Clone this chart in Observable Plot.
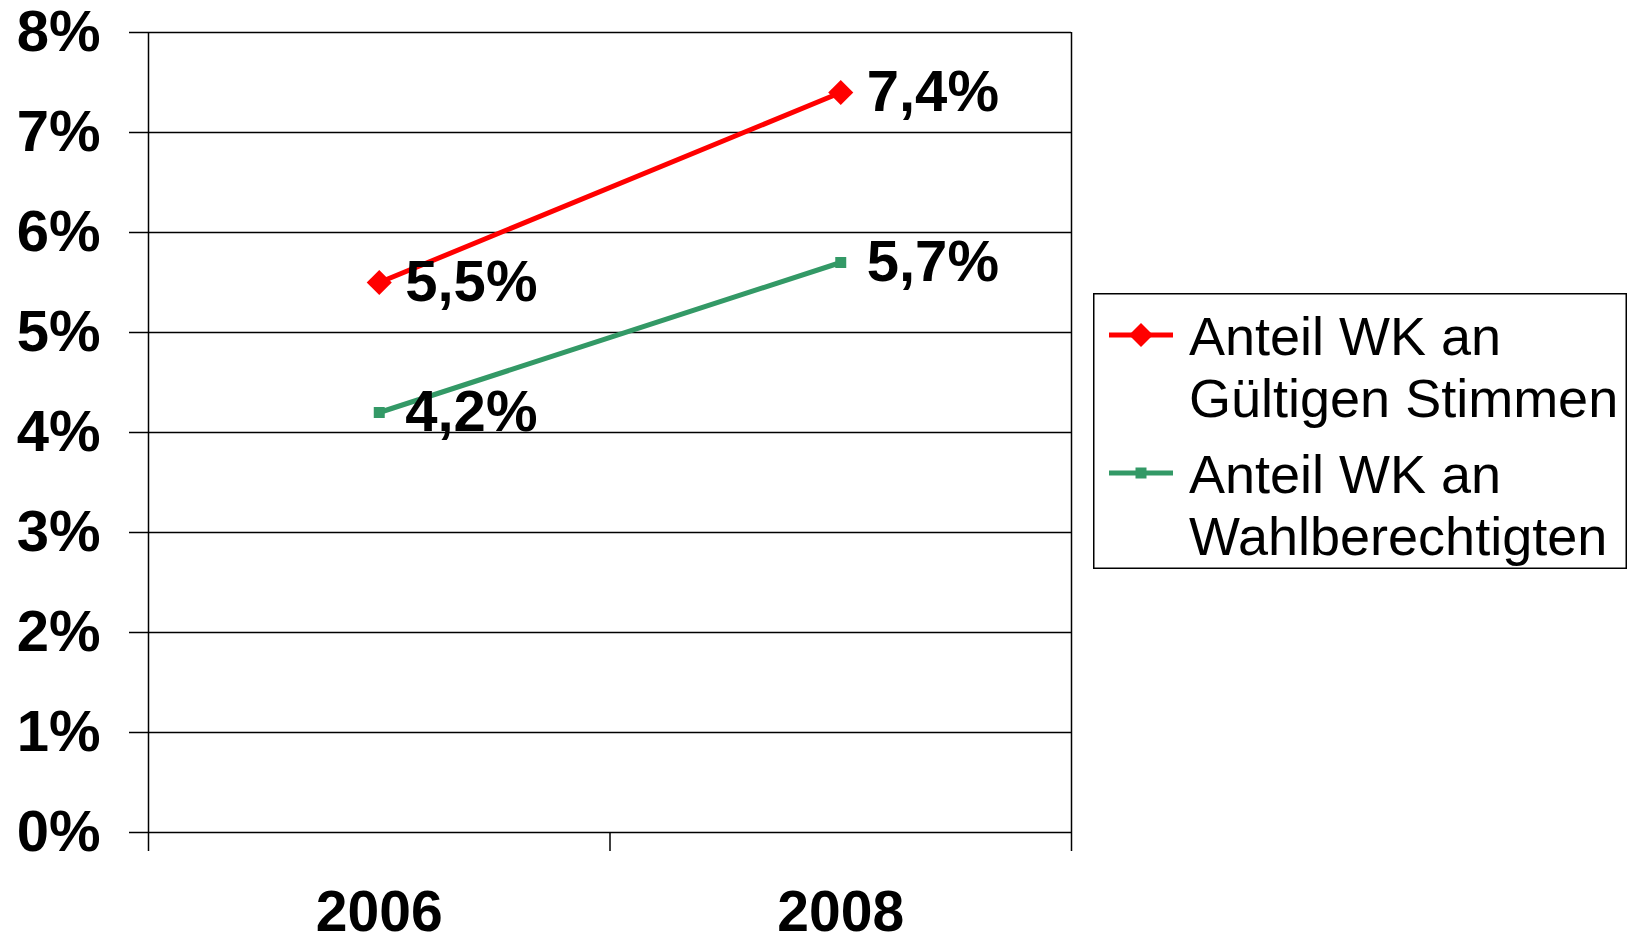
<!DOCTYPE html>
<html>
<head>
<meta charset="utf-8">
<script src="https://cdn.jsdelivr.net/npm/d3@7"></script>
<script src="https://cdn.jsdelivr.net/npm/@observablehq/plot@0.6"></script>
<style>
  html, body { margin: 0; padding: 0; background: white; }
  #wrap { position: relative; width: 1635px; height: 944px; }
  #legend { position: absolute; left: 1093px; top: 293px; }
</style>
</head>
<body>
<div id="wrap"></div>
<script>
// ---- data ----
const years = [2006, 2008];
const bandEdges = [2005, 2007, 2009];
const yTicks = [0, 1, 2, 3, 4, 5, 6, 7, 8];
const seriesNames = ["Anteil WK an Gültigen Stimmen", "Anteil WK an Wahlberechtigten"];
const legendLines = [["Anteil WK an", "Gültigen Stimmen"], ["Anteil WK an", "Wahlberechtigten"]];
const gueltigeStimmen = [5.5, 7.4];
const wahlberechtigte = [4.2, 5.7];
const seriesColors = ["#FF0000", "#339966"];

const rows = [
  ...years.map((year, i) => ({year, value: gueltigeStimmen[i], series: seriesNames[0]})),
  ...years.map((year, i) => ({year, value: wahlberechtigte[i], series: seriesNames[1]}))
];
const fmt = v => v.toFixed(1).replace(".", ",") + "%";
const font = "'Liberation Sans', Arial, Helvetica, sans-serif";

const chart = Plot.plot({
  width: 1635,
  height: 944,
  marginLeft: 148,
  marginRight: 564,
  marginTop: 32,
  marginBottom: 112,
  style: {fontFamily: font, background: "white", color: "black", overflow: "visible"},
  x: {domain: [bandEdges[0], bandEdges[bandEdges.length - 1]], label: null},
  y: {domain: [yTicks[0], yTicks[yTicks.length - 1]], label: null},
  color: {type: "ordinal", domain: seriesNames, range: seriesColors},
  marks: [
    Plot.gridY(yTicks, {stroke: "black", strokeOpacity: 1, strokeWidth: 1.5}),
    Plot.ruleX([bandEdges[0], bandEdges[bandEdges.length - 1]], {y1: yTicks[0], y2: yTicks[yTicks.length - 1], stroke: "black", strokeWidth: 1.5}),
    Plot.axisY(yTicks, {tickSize: 19, tickPadding: 29, tickFormat: d => d + "%", fontSize: 58, fontWeight: "bold", strokeWidth: 1.5, label: null}),
    Plot.axisX(bandEdges, {tickSize: 19, tickFormat: () => "", strokeWidth: 1.5, label: null}),
    Plot.axisX(years, {tickSize: 0, tickPadding: 58, tickFormat: d => String(d), fontSize: 57, fontWeight: "bold", label: null}),
    Plot.line(rows, {x: "year", y: "value", z: "series", stroke: "series", strokeWidth: 5}),
    Plot.dot(rows.filter(d => d.series === seriesNames[0]), {x: "year", y: "value", fill: "series", symbol: "diamond2", r: 11.3}),
    Plot.dot(rows.filter(d => d.series === seriesNames[1]), {x: "year", y: "value", fill: "series", symbol: "square", r: 6.2}),
    Plot.text(rows, {x: "year", y: "value", text: d => fmt(d.value), textAnchor: "start", dx: 26, fontSize: 58, fontWeight: "bold", fill: "black"})
  ]
});
document.getElementById("wrap").appendChild(chart);

// ---- legend ----
const lw = 534, lh = 276;
const legend = d3.select("#wrap").append("svg")
  .attr("id", "legend").attr("width", lw).attr("height", lh)
  .style("font-family", font);
legend.append("rect").attr("x", 0.75).attr("y", 0.75).attr("width", lw - 1.5).attr("height", lh - 1.5)
  .attr("fill", "white").attr("stroke", "black").attr("stroke-width", 1.5);
const symbols = [d3.symbol(d3.symbolDiamond2, 367), d3.symbol(d3.symbolSquare, 121)];
seriesNames.forEach((name, i) => {
  const g = legend.append("g").attr("transform", `translate(0,${i * 138})`);
  g.append("line").attr("x1", 16).attr("x2", 80).attr("y1", 42).attr("y2", 42)
    .attr("stroke", seriesColors[i]).attr("stroke-width", 5);
  g.append("path").attr("d", symbols[i]()).attr("transform", "translate(48,42)").attr("fill", seriesColors[i]);
  legendLines[i].forEach((line, j) => {
    g.append("text").attr("x", 96).attr("y", 62 + j * 62).attr("font-size", 54).attr("fill", "black").text(line);
  });
});
</script>
</body>
</html>
